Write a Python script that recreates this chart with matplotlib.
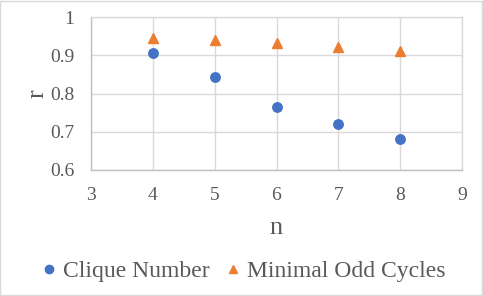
import matplotlib
matplotlib.use("Agg")
import matplotlib.pyplot as plt
from matplotlib.lines import Line2D

n_values = [4, 5, 6, 7, 8]
clique_number = [0.905, 0.842, 0.766, 0.719, 0.680]
minimal_odd_cycles = [0.946, 0.940, 0.932, 0.922, 0.911]
x_ticks = [3, 4, 5, 6, 7, 8, 9]
y_ticks = [0.6, 0.7, 0.8, 0.9, 1.0]
y_tick_labels = ["0.6", "0.7", "0.8", "0.9", "1"]

plt.rcParams['font.family'] = ['Liberation Serif', 'DejaVu Serif']
blue = "#4472C4"
orange = "#ED7D31"
txt = "#595959"
grid = "#D9D9D9"

fig = plt.figure(figsize=(4.83, 2.96), dpi=100)
ax = fig.add_axes([91/483, 1-170/296, (462-91)/483, (170-17)/296])

ax.plot(n_values, clique_number, linestyle='none', marker='o', markersize=6.8,
        color=blue, label="Clique Number", zorder=3)
ax.plot(n_values, minimal_odd_cycles, linestyle='none', marker='^', markersize=6.8,
        color=orange, label="Minimal Odd Cycles", zorder=3)

ax.set_xlim(3, 9)
ax.set_ylim(0.6, 1.0)
ax.set_xticks(x_ticks)
ax.set_yticks(y_ticks)
ax.set_yticklabels(y_tick_labels)
ax.grid(True, color=grid, linewidth=1)
ax.set_axisbelow(True)
for s in ax.spines.values():
    s.set_color(grid)
    s.set_linewidth(1)
ax.spines['left'].set_color("#BFBFBF")
ax.spines['bottom'].set_color("#BFBFBF")
ax.tick_params(axis='both', length=0, labelsize=14, colors=txt)
ax.tick_params(axis='y', pad=12)
ax.tick_params(axis='x', pad=12.5)
ax.set_xlabel("n", fontsize=19, color=txt, labelpad=9)
ax.set_ylabel("r", fontsize=19, color=txt, labelpad=1)

handles = [Line2D([], [], linestyle='none', marker='o', markersize=6, color=blue),
           Line2D([], [], linestyle='none', marker='^', markersize=6, color=orange)]
leg = fig.legend(handles, ["Clique Number", "Minimal Odd Cycles"], loc='center',
                 bbox_to_anchor=(0.5, 1-271/296), ncol=2, frameon=False,
                 fontsize=17, handletextpad=0.1, columnspacing=0.5, handlelength=1.0)
for t in leg.get_texts():
    t.set_color(txt)

fig.patches.append(plt.Rectangle((0.001, 0.002), 0.997, 0.995, transform=fig.transFigure,
                                 fill=False, edgecolor=grid, linewidth=1))
fig.savefig("out.png", dpi=100)
